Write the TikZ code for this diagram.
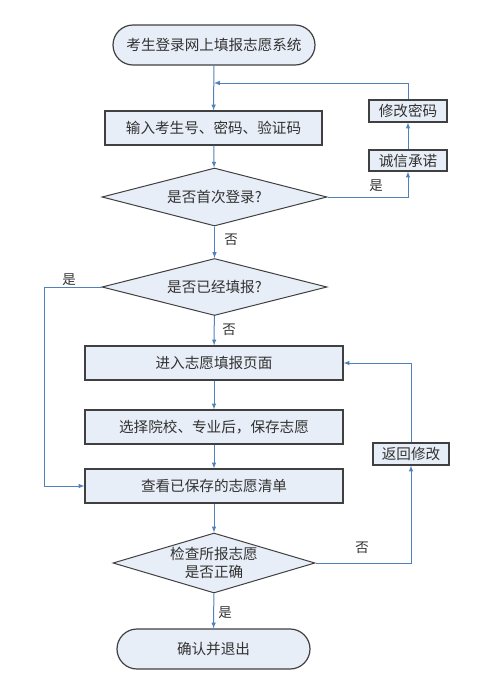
\documentclass[tikz,border=0pt]{standalone}
\usepackage{fontspec}
\setmainfont{Noto Sans CJK SC}
\usetikzlibrary{shapes.geometric}
\definecolor{boxfill}{RGB}{232,238,247}
\definecolor{linkblue}{RGB}{79,129,189}
\definecolor{edgegray}{RGB}{64,64,64}
\definecolor{textgray}{RGB}{50,50,50}

\begin{document}
\begin{tikzpicture}[x=1pt,y=-1pt,
  every node/.style={font=\fontsize{14.6}{17.5}\selectfont, text=textgray},
  proc/.style={draw=edgegray, fill=boxfill, line width=1.2pt, inner sep=0pt},
  term/.style={proc, rounded corners=20pt, minimum height=40pt},
  choice/.style={draw=edgegray, fill=boxfill, line width=1pt, diamond, inner sep=0pt, align=center},
  link/.style={linkblue, line width=1pt, ->, >=latex},
  tag/.style={font=\fontsize{13.5}{15}\selectfont}]
\useasboundingbox (0,0) rectangle (481,681);
% boxes
\node[term, minimum width=202pt] (start) at (214,45) {考生登录网上填报志愿系统};
\node[proc, minimum width=217pt, minimum height=34pt] (input) at (213.5,128) {输入考生号、密码、验证码};
\node[proc, minimum width=78pt, minimum height=22pt] (pwd) at (408,111) {修改密码};
\node[proc, minimum width=78pt, minimum height=21pt] (promise) at (408,160.5) {诚信承诺};
\node[choice, aspect=3.9, minimum width=225pt, minimum height=58pt] (first) at (214.5,197) {是否首次登录?};
\node[choice, aspect=3.9, minimum width=225pt, minimum height=57pt] (filled) at (214.5,287) {是否已经填报?};
\node[proc, minimum width=258pt, minimum height=34pt] (enter) at (214,363) {进入志愿填报页面};
\node[proc, minimum width=258pt, minimum height=34pt] (choose) at (214,427) {选择院校、专业后，保存志愿};
\node[proc, minimum width=258pt, minimum height=34pt] (view) at (214,486) {查看已保存的志愿清单};
\node[proc, minimum width=76pt, minimum height=22pt] (back) at (411,454) {返回修改};
\node[choice, aspect=3.37, minimum width=202pt, minimum height=60pt] (check) at (214,563) {检查所报志愿\\是否正确};
\node[term, minimum width=193pt] (finish) at (213.5,649) {确认并退出};
% arrows
\coordinate (join) at (214,83);
\draw[link] (start) -- (input);
\draw[link] (pwd.north) |- (join);
\draw[link] (input) -- (first);
\draw[link] (first.east) -| (promise.south);
\draw[link] (promise) -- (pwd);
\draw[link] (first) -- (filled);
\draw[link] (filled) -- (enter);
\draw[link] (filled.west) -- ++(-57,0) |- (view.west);
\draw[link] (enter) -- (choose);
\draw[link] (choose) -- (view);
\draw[link] (view) -- (check);
\draw[link] (check.east) -| (back.south);
\draw[link] (back.north) |- (enter.east);
\draw[link] (check) -- (finish);
% labels
\node[tag] (y1) at (376,186) {是};
\node[tag] (n1) at (231,240) {否};
\node[tag] (y2) at (69,280) {是};
\node[tag] (n2) at (229,330) {否};
\node[tag] (n3) at (362,548) {否};
\node[tag] (y3) at (225,613) {是};
\end{tikzpicture}
\end{document}
